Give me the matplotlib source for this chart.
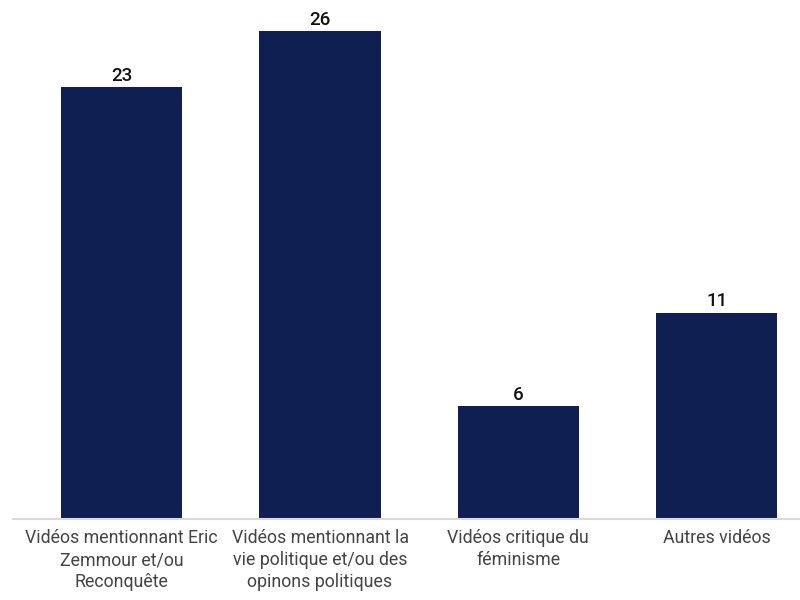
import matplotlib.pyplot as plt

categories = ["Vidéos mentionnant Eric\nZemmour et/ou\nReconquête",
              "Vidéos mentionnant la\nvie politique et/ou des\nopinons politiques",
              "Vidéos critique du\nféminisme",
              "Autres vidéos"]
values = [23, 26, 6, 11]

plt.rcParams['font.family'] = ['Roboto', 'DejaVu Sans']

fig = plt.figure(figsize=(8, 6), dpi=100)
ax = fig.add_axes([13 / 800, 81 / 600, 787 / 800, 519 / 600])

x = range(len(values))
bars = ax.bar(x, values, width=0.613, color="#0f1f52")

for i, v in enumerate(values):
    ax.annotate(str(v), (i, v), xytext=(0, 1.5), textcoords="offset points",
                ha="center", va="bottom", fontsize=13.5, color="#111111",
                fontweight="medium")

ax.set_xlim(-0.548, 3.42)
ax.set_ylim(0, 27.65)
ax.set_xticks(list(x))
ax.set_xticklabels(categories, fontsize=12.8, color="#444444", linespacing=1.28)
ax.tick_params(axis="x", length=0, pad=7.5)
ax.set_yticks([])
for s in ["top", "right", "left"]:
    ax.spines[s].set_visible(False)
ax.spines["bottom"].set_color("#d9d9d9")
ax.spines["bottom"].set_linewidth(1.5)

fig.savefig("out.png", dpi=100)
